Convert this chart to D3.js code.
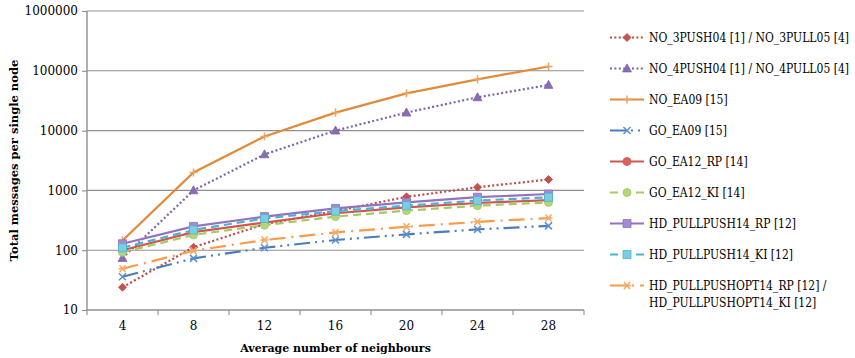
<!DOCTYPE html>
<html><head><meta charset="utf-8">
<script src="https://cdn.jsdelivr.net/npm/d3@7"></script>
<style>
body{margin:0;background:#fff}
svg{display:block}
text{font-family:"DejaVu Serif",serif;fill:#000}
text.leg{font-family:"DejaVu Serif Condensed","DejaVu Serif",serif;font-stretch:condensed}
</style>
</head><body>
<svg id="chart" width="855" height="358"></svg>
<script>
// Average number of neighbours (x categories)
const neighbours = [4, 8, 12, 16, 20, 24, 28];
const yTickValues = [10, 100, 1000, 10000, 100000, 1000000];

const seriesNames = [
  "NO_3PUSH04 [1] / NO_3PULL05 [4]",
  "NO_4PUSH04 [1] / NO_4PULL05 [4]",
  "NO_EA09 [15]",
  "GO_EA09 [15]",
  "GO_EA12_RP [14]",
  "GO_EA12_KI [14]",
  "HD_PULLPUSH14_RP [12]",
  "HD_PULLPUSH14_KI [12]",
  "HD_PULLPUSHOPT14_RP [12] / HD_PULLPUSHOPT14_KI [12]"
];

// Total messages per single node, one array per protocol
const no3Push   = [24, 112, 272, 450, 780, 1130, 1520];
const no4Push   = [74, 1000, 4000, 10000, 20000, 36000, 58000];
const noEA09    = [145, 2000, 8000, 20000, 42000, 72000, 118000];
const goEA09    = [36, 73, 110, 148, 184, 223, 255];
const goEA12RP  = [100, 200, 290, 415, 520, 615, 690];
const goEA12KI  = [92, 180, 262, 365, 458, 556, 630];
const hdRP      = [128, 250, 365, 500, 630, 770, 870];
const hdKI      = [110, 218, 340, 450, 556, 675, 767];
const hdOpt     = [49, 98, 148, 198, 246, 298, 345];

const seriesValues = [no3Push, no4Push, noEA09, goEA09, goEA12RP, goEA12KI, hdRP, hdKI, hdOpt];

// Visual style of each series
const styles = [
  {color: "#BC4A47", dash: "2,2.4", marker: "diamond", fill: "#C4524F"},
  {color: "#7E63A8", dash: "2,2.4", marker: "triangle", fill: "#8A6CB3"},
  {color: "#E08A3A", dash: null, marker: "plus", fill: "#F0A260"},
  {color: "#4A7EBB", dash: "16,5,2,5,2,5", marker: "cross", fill: "#5B8FD0"},
  {color: "#D2564F", dash: null, marker: "circle", fill: "#D9625C"},
  {color: "#A6C963", dash: "8,5", marker: "circle", fill: "#B5D47C"},
  {color: "#9272C2", dash: null, marker: "square", fill: "#A68AD0"},
  {color: "#48B4D2", dash: "8,5", marker: "square", fill: "#7CCDE2"},
  {color: "#F89C4C", dash: "16,6,2,6", marker: "asterisk", fill: "#F9A860"}
];

const svg = d3.select("#chart");
const plotLeft = 87, plotRight = 584, plotTop = 11, plotBottom = 310;

const x = d3.scaleBand().domain(neighbours).range([plotLeft, plotRight]);
const xc = d => x(d) + x.bandwidth() / 2;
const y = d3.scaleLog().domain([10, 1000000]).range([plotBottom, plotTop]);

// horizontal gridlines
svg.append("g").selectAll("line").data(yTickValues.slice(1)).join("line")
  .attr("x1", plotLeft).attr("x2", plotRight)
  .attr("y1", d => y(d)).attr("y2", d => y(d))
  .attr("stroke", d => d === 1000000 ? "#c9c9c9" : "#8f8f8f")
  .attr("stroke-width", d => d === 1000000 ? 2 : 1.1);

// y axis
const yAxis = svg.append("g").attr("transform", `translate(${plotLeft},0)`)
  .call(d3.axisLeft(y).tickValues(yTickValues).tickFormat(d3.format("d")).tickSize(5).tickPadding(4));
yAxis.select(".domain").attr("stroke", "#8f8f8f").attr("stroke-width", 1.4)
  .attr("d", `M0,${plotTop}V${plotBottom}`);
yAxis.selectAll(".tick line").attr("stroke", "#8f8f8f").attr("stroke-width", 1.1);
yAxis.selectAll(".tick text").style("font-family", '"DejaVu Serif",serif').style("font-size", "12px").attr("fill", "#000");

// x axis with ticks between categories
const xAxis = svg.append("g").attr("transform", `translate(0,${plotBottom})`);
xAxis.append("line").attr("x1", plotLeft).attr("x2", plotRight).attr("stroke", "#8f8f8f").attr("stroke-width", 1.4);
const edges = neighbours.map(d => x(d)).concat([x(neighbours[neighbours.length - 1]) + x.bandwidth()]);
xAxis.selectAll("line.t").data(edges).join("line").attr("class", "t")
  .attr("x1", d => d).attr("x2", d => d).attr("y1", 0).attr("y2", 5)
  .attr("stroke", "#8f8f8f").attr("stroke-width", 1.1);
xAxis.selectAll("text").data(neighbours).join("text")
  .attr("x", d => xc(d)).attr("y", 20).attr("text-anchor", "middle")
  .style("font-size", "12px").text(d => d);

// axis titles
svg.append("text").attr("x", (plotLeft + plotRight) / 2).attr("y", 352).attr("text-anchor", "middle")
  .style("font-size", "11px").style("font-weight", "bold").text("Average number of neighbours");
svg.append("text").attr("transform", `translate(18,${(plotTop + plotBottom) / 2}) rotate(-90)`)
  .attr("text-anchor", "middle").style("font-size", "11.5px").style("font-weight", "bold")
  .text("Total messages per single node");

// marker shapes
function markerPath(type) {
  switch (type) {
    case "diamond": return "M0,-4L4,0L0,4L-4,0Z";
    case "triangle": return "M0,-4.6L4.4,3.4L-4.4,3.4Z";
    case "circle": return d3.symbol(d3.symbolCircle, 50)();
    case "square": return "M-4,-4H4V4H-4Z";
    case "plus": return "M-4,0H4M0,-4V4";
    case "cross": return "M-3.5,-3.5L3.5,3.5M-3.5,3.5L3.5,-3.5";
    case "asterisk": return "M-4,0H4M-3,-3.5L3,3.5M-3,3.5L3,-3.5";
  }
}
const strokeMarkers = new Set(["plus", "cross", "asterisk"]);

function drawMarker(g, s, cx, cy) {
  const m = g.append("path").attr("d", markerPath(s.marker))
    .attr("transform", `translate(${cx},${cy})`);
  if (strokeMarkers.has(s.marker)) {
    m.attr("fill", "none").attr("stroke", s.fill).attr("stroke-width", 1.5);
  } else {
    m.attr("fill", s.fill).attr("stroke", s.color).attr("stroke-width", 0.8);
  }
}

const line = d3.line().x((d, i) => xc(neighbours[i])).y(d => y(d));

const plot = svg.append("g");
seriesValues.forEach((vals, k) => {
  const s = styles[k];
  const g = plot.append("g");
  g.append("path").datum(vals).attr("d", line)
    .attr("fill", "none").attr("stroke", s.color).attr("stroke-width", 2.2)
    .attr("stroke-dasharray", s.dash);
  vals.forEach((v, i) => drawMarker(g, s, xc(neighbours[i]), y(v)));
});

// legend
const legend = svg.append("g");
const legendTextX = 649, legendTextWidth = 203;
const rowY = seriesNames.map((n, i) => 37.5 + i * 31);
const legendTexts = [];
seriesNames.forEach((name, k) => {
  const s = styles[k];
  const g = legend.append("g");
  const ly = rowY[k];
  g.append("line").attr("x1", 610).attr("x2", 644).attr("y1", ly).attr("y2", ly)
    .attr("stroke", s.color).attr("stroke-width", 2.2).attr("stroke-dasharray", s.dash);
  drawMarker(g, s, 627, ly);
  const parts = name.split(" / ");
  if (parts.length > 1 && k === seriesNames.length - 1) {
    legendTexts.push(g.append("text").attr("class", "leg").attr("x", legendTextX).attr("y", ly + 4.5).text(parts[0] + " /"));
    legendTexts.push(g.append("text").attr("class", "leg").attr("x", legendTextX).attr("y", ly + 21.5).text(parts[1]));
  } else {
    legendTexts.push(g.append("text").attr("class", "leg").attr("x", legendTextX).attr("y", ly + 4.5).text(name));
  }
});
// size the legend font so the widest entry fits beside the plot
legendTexts.forEach(t => t.style("font-size", "12px"));
const widest = d3.max(legendTexts, t => t.node().getComputedTextLength());
const legendFont = Math.min(12, 12 * legendTextWidth / widest);
legendTexts.forEach(t => t.style("font-size", legendFont + "px"));
</script>
</body></html>
